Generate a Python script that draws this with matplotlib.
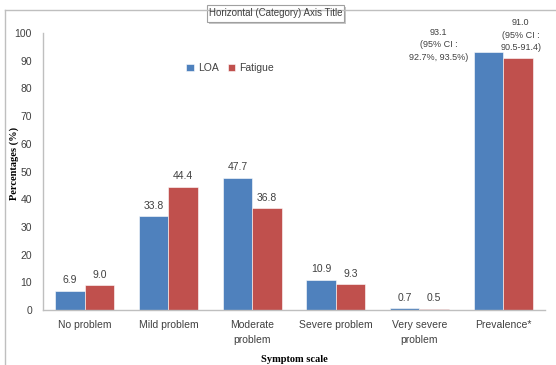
import matplotlib
matplotlib.use("Agg")
import matplotlib.pyplot as plt
import numpy as np
from matplotlib.patches import Rectangle
from matplotlib.lines import Line2D

categories = ["No problem", "Mild problem", "Moderate\nproblem", "Severe problem",
              "Very severe\nproblem", "Prevalence*"]
loa = [6.9, 33.8, 47.7, 10.9, 0.7, 93.1]
fatigue = [9.0, 44.4, 36.8, 9.3, 0.5, 91.0]
loa_labels = ["6.9", "33.8", "47.7", "10.9", "0.7", "93.1\n(95% CI :\n92.7%, 93.5%)"]
fatigue_labels = ["9.0", "44.4", "36.8", "9.3", "0.5", "91.0\n(95% CI :\n90.5-91.4)"]
yticks = [0, 10, 20, 30, 40, 50, 60, 70, 80, 90, 100]

BLUE = "#4F81BD"
RED = "#C0504D"
TXT = "#404040"
FONT = "Liberation Sans"

W, H = 556, 365
fig = plt.figure(figsize=(W / 100, H / 100), dpi=100)
ax = fig.add_axes([43 / W, 1 - 310 / H, (545 - 43) / W, (310 - 33) / H])

x = np.arange(len(categories))
bw = 0.352
ax.bar(x - bw / 2, loa, bw, color=BLUE, edgecolor="white", linewidth=0.4, label="LOA")
ax.bar(x + bw / 2, fatigue, bw, color=RED, edgecolor="white", linewidth=0.4, label="Fatigue")

ax.set_xlim(-0.5, len(categories) - 0.5)
ax.set_ylim(0, 100)
ax.set_yticks(yticks)
ax.set_yticklabels([str(v) for v in yticks], fontsize=7.5, color=TXT, family=FONT)
ax.set_xticks(x)
ax.set_xticklabels(categories, fontsize=7.5, color=TXT, family=FONT, linespacing=1.6)
ax.tick_params(axis="y", length=0, pad=8)
ax.tick_params(axis="x", length=0, pad=7)
for s in ["top", "right"]:
    ax.spines[s].set_visible(False)
for s in ["left", "bottom"]:
    ax.spines[s].set_color("#BFBFBF")
    ax.spines[s].set_linewidth(1.0)

for i in range(len(categories)):
    if i < len(categories) - 1:
        ax.annotate(loa_labels[i], (x[i] - bw / 2, loa[i]), xytext=(0, 4), textcoords="offset points",
                    ha="center", va="bottom", fontsize=7.5, color=TXT, family=FONT)
        ax.annotate(fatigue_labels[i], (x[i] + bw / 2, fatigue[i]), xytext=(0, 4), textcoords="offset points",
                    ha="center", va="bottom", fontsize=7.5, color=TXT, family=FONT)
    else:
        ax.annotate(loa_labels[i], (x[i] - bw / 2, loa[i]), xytext=(-36, -7), textcoords="offset points",
                    ha="center", va="bottom", fontsize=6.5, color=TXT, family=FONT, linespacing=1.5)
        ax.annotate(fatigue_labels[i], (x[i] + bw / 2, fatigue[i]), xytext=(2, 4), textcoords="offset points",
                    ha="center", va="bottom", fontsize=6.5, color=TXT, family=FONT, linespacing=1.5)

ax.set_xlabel("Symptom scale", fontsize=7.5, fontweight="bold", family="Liberation Serif",
              color="black", labelpad=4)
ax.set_ylabel("Percentages (%)", fontsize=7.5, fontweight="bold", family="Liberation Serif",
              color="black", labelpad=3)
ax.yaxis.set_label_coords(-24 / (545 - 43), 0.53)
ax.xaxis.set_label_coords(0.5, -45 / (310 - 33))

leg = ax.legend(loc="upper left", bbox_to_anchor=(134 / 502, 0.926), ncol=2, frameon=False,
                prop={"family": FONT, "size": 7.5}, handlelength=0.7, handleheight=0.7,
                handletextpad=0.4, columnspacing=0.9, labelcolor=TXT)

# outer frame lines (left and top)
fig.add_artist(Line2D([5 / W, 5 / W], [0, 1 - 10 / H], transform=fig.transFigure, color="#BFBFBF", lw=1))
fig.add_artist(Line2D([5 / W, 1], [1 - 10 / H, 1 - 10 / H], transform=fig.transFigure, color="#BFBFBF", lw=1))

# placeholder title box with shadow
bx0, bx1, by0, by1 = 207, 344, 5, 22
fig.add_artist(Rectangle(((bx0 + 2) / W, 1 - (by1 + 2) / H), (bx1 - bx0) / W, (by1 - by0) / H,
                         transform=fig.transFigure, facecolor="#C8C8C8", edgecolor="none"))
fig.add_artist(Rectangle((bx0 / W, 1 - by1 / H), (bx1 - bx0) / W, (by1 - by0) / H,
                         transform=fig.transFigure, facecolor="white", edgecolor="#A0A0A0", lw=0.8))
fig.text((bx0 + bx1) / 2 / W, 1 - (by0 + by1) / 2 / H, "Horizontal (Category) Axis Title",
         ha="center", va="center", fontsize=7, color=TXT, family=FONT)

fig.savefig("out.png", dpi=100)
